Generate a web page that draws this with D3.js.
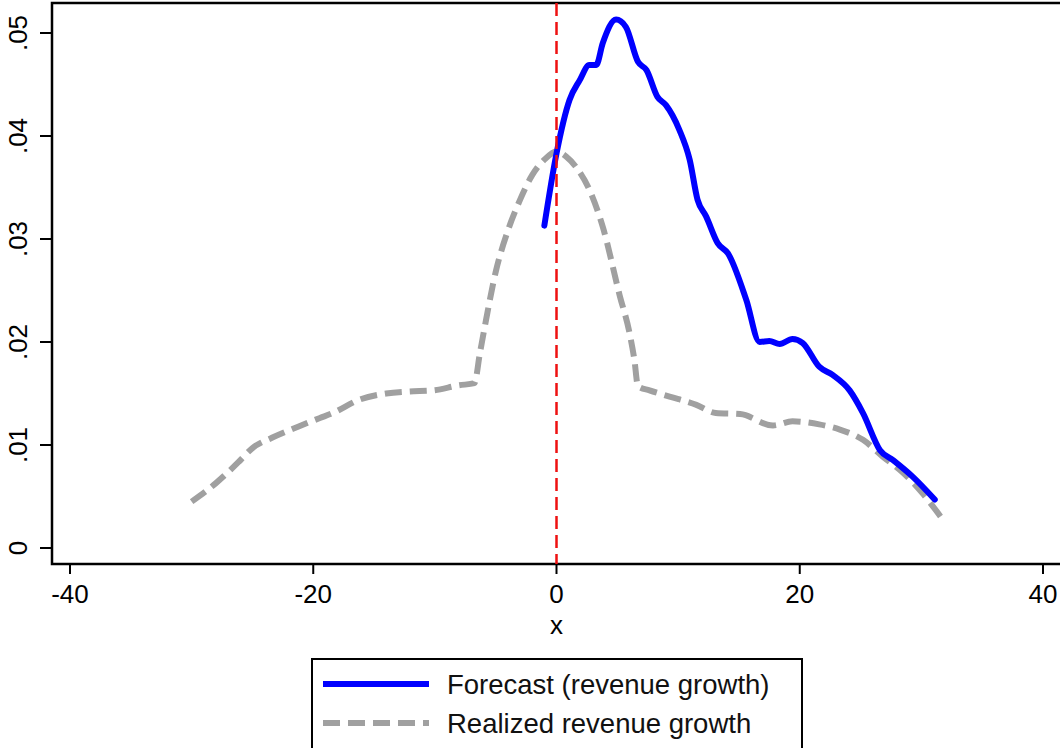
<!doctype html>
<html>
<head>
<meta charset="utf-8">
<title>Forecast vs realized revenue growth</title>
<script src="https://cdn.jsdelivr.net/npm/d3@7"></script>
<style>
  body { margin: 0; background: #fff; }
  svg { display: block; font-family: "Liberation Sans", Arial, sans-serif; }
</style>
</head>
<body>
<svg id="chart" width="1060" height="748"></svg>
<script>
// forecast (revenue growth)
var forecastX = [-1.0, 0.0, 1.07, 1.9, 2.7, 3.27, 3.8, 4.9, 5.7, 6.7, 7.4, 8.3, 9.0, 10.1, 10.95, 11.6, 12.3, 13.25, 14.1, 15.6, 16.7, 17.5, 18.35, 19.4, 20.25, 21.6, 22.7, 24.1, 25.2, 26.6, 27.7, 29.3, 31.1];
var forecastY = [0.0313, 0.0383, 0.0435, 0.0454, 0.0469, 0.0469, 0.0490, 0.0513, 0.0506, 0.0472, 0.0464, 0.0438, 0.0430, 0.0406, 0.0377, 0.0338, 0.0322, 0.0296, 0.0286, 0.0241, 0.0200, 0.0201, 0.0198, 0.0203, 0.0199, 0.0176, 0.0168, 0.0153, 0.0131, 0.0095, 0.0085, 0.0069, 0.0047];

// realized revenue growth
var realizedX = [-30.0, -28.0, -26.1, -25.0, -23.4, -21.2, -19.5, -18.4, -16.2, -14.0, -12.1, -10.2, -8.0, -6.75, -6.3, -5.8, -5.0, -4.0, -3.0, -2.0, -1.0, 0.0, 0.8, 1.6, 2.7, 3.8, 5.2, 6.0, 6.4, 6.7, 7.65, 9.3, 11.5, 13.1, 15.1, 17.8, 19.4, 21.6, 23.3, 25.2, 26.8, 28.5, 30.1, 31.8];
var realizedY = [0.0045, 0.0063, 0.0084, 0.0097, 0.0107, 0.0118, 0.0126, 0.0131, 0.0144, 0.0150, 0.0152, 0.0153, 0.0158, 0.0160, 0.0189, 0.0221, 0.0268, 0.0308, 0.0338, 0.0362, 0.0377, 0.0385, 0.0380, 0.0370, 0.0348, 0.0312, 0.0245, 0.0209, 0.0183, 0.0157, 0.0153, 0.0147, 0.0139, 0.0131, 0.0130, 0.0119, 0.0123, 0.0120, 0.0115, 0.0105, 0.0089, 0.0073, 0.0053, 0.0027];

var xTicks = [-40, -20, 0, 20, 40];
var yTicks = [0, 0.01, 0.02, 0.03, 0.04, 0.05];
var yTickLabels = ["0", ".01", ".02", ".03", ".04", ".05"];
var seriesNames = ["Forecast (revenue growth)", "Realized revenue growth"];
var cutoff = 0;

var svg = d3.select("#chart");

// plot frame edges (right edge runs past the picture)
var frameLeft = 52, frameRight = 1064, frameTop = 3, frameBottom = 564;

var x = d3.scaleLinear().domain([-40, 40]).range([70, 1043]);
var y = d3.scaleLinear().domain([0, 0.05]).range([548, 33]);

var forecast = forecastX.map(function(d, i) { return [d, forecastY[i]]; });
var realized = realizedX.map(function(d, i) { return [d, realizedY[i]]; });

var line = d3.line()
    .x(function(d) { return x(d[0]); })
    .y(function(d) { return y(d[1]); })
    .curve(d3.curveMonotoneX);

// frame
svg.append("rect")
    .attr("x", frameLeft).attr("y", frameTop)
    .attr("width", frameRight - frameLeft).attr("height", frameBottom - frameTop)
    .attr("fill", "none").attr("stroke", "#000").attr("stroke-width", 2.5);

// realized (grey dashed)
svg.append("path")
    .datum(realized)
    .attr("d", line)
    .attr("fill", "none")
    .attr("stroke", "#a0a0a0")
    .attr("stroke-width", 6)
    .attr("stroke-dasharray", "17,8");

// forecast (blue)
svg.append("path")
    .datum(forecast)
    .attr("d", line)
    .attr("fill", "none")
    .attr("stroke", "#0000ff")
    .attr("stroke-width", 6)
    .attr("stroke-linecap", "round")
    .attr("stroke-linejoin", "round");

// vertical line at 0
svg.append("line")
    .attr("x1", x(cutoff)).attr("x2", x(cutoff))
    .attr("y1", frameTop).attr("y2", frameBottom)
    .attr("stroke", "#ee1111")
    .attr("stroke-width", 2.5)
    .attr("stroke-dasharray", "13,6");

// x axis
var xAxis = svg.append("g");
xAxis.selectAll("line").data(xTicks).enter().append("line")
    .attr("x1", function(d) { return x(d); }).attr("x2", function(d) { return x(d); })
    .attr("y1", frameBottom).attr("y2", frameBottom + 10)
    .attr("stroke", "#000").attr("stroke-width", 2);
xAxis.selectAll("text").data(xTicks).enter().append("text")
    .attr("x", function(d) { return x(d); })
    .attr("y", 603)
    .attr("text-anchor", "middle")
    .attr("font-size", 26)
    .text(function(d) { return d; });
svg.append("text")
    .attr("x", x(0)).attr("y", 634)
    .attr("text-anchor", "middle")
    .attr("font-size", 26)
    .text("x");

// y axis
var yAxis = svg.append("g");
yAxis.selectAll("line").data(yTicks).enter().append("line")
    .attr("x1", frameLeft - 12).attr("x2", frameLeft)
    .attr("y1", function(d) { return y(d); }).attr("y2", function(d) { return y(d); })
    .attr("stroke", "#000").attr("stroke-width", 2);
yAxis.selectAll("text").data(yTicks).enter().append("text")
    .attr("transform", function(d) { return "translate(27," + y(d) + ") rotate(-90)"; })
    .attr("text-anchor", "middle")
    .attr("font-size", 26)
    .text(function(d, i) { return yTickLabels[i]; });

// legend
var legend = svg.append("g");
legend.append("rect")
    .attr("x", 312).attr("y", 659)
    .attr("width", 490).attr("height", 110)
    .attr("fill", "#fff").attr("stroke", "#000").attr("stroke-width", 2);
legend.append("line")
    .attr("x1", 323).attr("x2", 429).attr("y1", 684).attr("y2", 684)
    .attr("stroke", "#0000ff").attr("stroke-width", 6);
legend.append("line")
    .attr("x1", 323).attr("x2", 429).attr("y1", 723).attr("y2", 723)
    .attr("stroke", "#a0a0a0").attr("stroke-width", 6)
    .attr("stroke-dasharray", "17,8");
legend.selectAll("text").data(seriesNames).enter().append("text")
    .attr("x", 447)
    .attr("y", function(d, i) { return 694 + i * 39; })
    .attr("font-size", 27.5)
    .attr("fill", "#111")
    .text(function(d) { return d; });
</script>
</body>
</html>
